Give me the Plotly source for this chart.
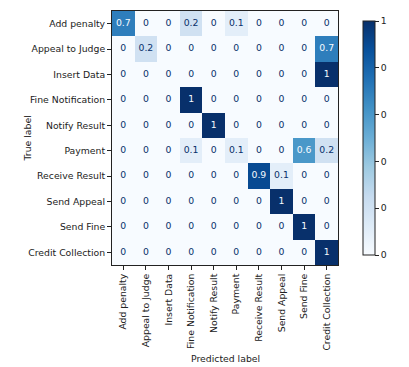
import plotly.graph_objects as go

labels = ["Add penalty", "Appeal to Judge", "Insert Data", "Fine Notification",
          "Notify Result", "Payment", "Receive Result", "Send Appeal",
          "Send Fine", "Credit Collection"]

matrix = [
    [0.7, 0, 0, 0.2, 0, 0.1, 0, 0, 0, 0],
    [0, 0.2, 0, 0, 0, 0, 0, 0, 0, 0.7],
    [0, 0, 0, 0, 0, 0, 0, 0, 0, 1],
    [0, 0, 0, 1, 0, 0, 0, 0, 0, 0],
    [0, 0, 0, 0, 1, 0, 0, 0, 0, 0],
    [0, 0, 0, 0.1, 0, 0.1, 0, 0, 0.6, 0.2],
    [0, 0, 0, 0, 0, 0, 0.9, 0.1, 0, 0],
    [0, 0, 0, 0, 0, 0, 0, 1, 0, 0],
    [0, 0, 0, 0, 0, 0, 0, 0, 1, 0],
    [0, 0, 0, 0, 0, 0, 0, 0, 0, 1],
]

cbar_vals = [0, 0.2, 0.4, 0.6, 0.8, 1.0]
cbar_text = ["0", "0", "0", "0", "0", "1"]

blues = [
    [0.0, "rgb(247,251,255)"], [0.125, "rgb(222,235,247)"], [0.25, "rgb(198,219,239)"],
    [0.375, "rgb(158,202,225)"], [0.5, "rgb(107,174,214)"], [0.625, "rgb(66,146,198)"],
    [0.75, "rgb(33,113,181)"], [0.875, "rgb(8,81,156)"], [1.0, "rgb(8,48,107)"],
]

FS = 9.3

def fmt(v):
    return "%g" % v

fig = go.Figure()
fig.add_trace(go.Heatmap(
    z=matrix, x=labels, y=labels, colorscale=blues, zmin=0, zmax=1,
    xgap=0, ygap=0, hoverinfo="skip",
    colorbar=dict(
        x=1.067, xanchor="left", xref="paper", y=0.5, yanchor="middle",
        len=1, lenmode="fraction", thickness=12, thicknessmode="pixels",
        outlinewidth=1, outlinecolor="#222", ticks="outside", ticklen=4,
        tickcolor="#222", tickvals=cbar_vals, ticktext=cbar_text,
        tickfont=dict(family="DejaVu Sans", size=FS, color="#222"),
    ),
))

dark_x, dark_y, dark_t, light_x, light_y, light_t = [], [], [], [], [], []
for i, row in enumerate(matrix):
    for j, v in enumerate(row):
        if v > 0.5:
            light_x.append(labels[j]); light_y.append(labels[i]); light_t.append(fmt(v))
        else:
            dark_x.append(labels[j]); dark_y.append(labels[i]); dark_t.append(fmt(v))

fig.add_trace(go.Scatter(x=dark_x, y=dark_y, text=dark_t, mode="text",
                         textfont=dict(family="DejaVu Sans", size=FS, color="#08306b"),
                         hoverinfo="skip", showlegend=False))
fig.add_trace(go.Scatter(x=light_x, y=light_y, text=light_t, mode="text",
                         textfont=dict(family="DejaVu Sans", size=FS, color="#f7fbff"),
                         hoverinfo="skip", showlegend=False))

axis_common = dict(showline=True, linecolor="#222", linewidth=1, mirror=True,
                   ticks="outside", ticklen=4, tickcolor="#222", showgrid=False,
                   zeroline=False, tickfont=dict(family="DejaVu Sans", size=FS, color="#222"))

fig.update_xaxes(**axis_common, tickangle=-90, categoryorder="array", categoryarray=labels)
fig.update_yaxes(**axis_common, autorange="reversed", categoryorder="array", categoryarray=labels)

fig.update_layout(
    width=409, height=367,
    margin=dict(l=112, r=43, t=11, b=102),
    paper_bgcolor="white", plot_bgcolor="white",
    font=dict(family="DejaVu Sans", size=FS, color="#222"),
    showlegend=False,
    annotations=[
        dict(text="Predicted label", xref="paper", yref="paper", x=0.5, y=-0.37,
             xanchor="center", yanchor="middle", showarrow=False,
             font=dict(family="DejaVu Sans", size=FS, color="#222")),
        dict(text="True label", xref="paper", yref="paper", x=-0.374, y=0.5,
             xanchor="center", yanchor="middle", showarrow=False, textangle=-90,
             font=dict(family="DejaVu Sans", size=FS, color="#222")),
    ],
)

fig.write_html("out.html")
